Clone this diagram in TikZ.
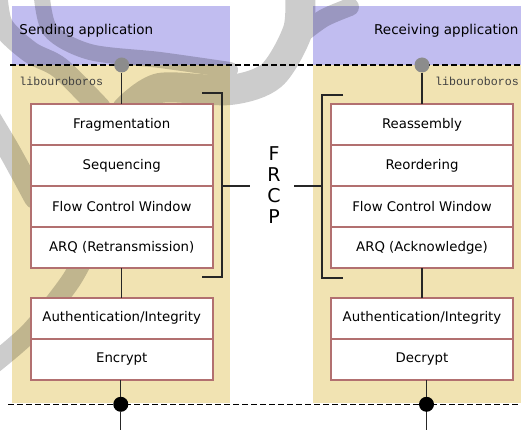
\documentclass[tikz,border=0pt]{standalone}
\usepackage{fontspec}
\setmainfont{DejaVu Sans}
\setmonofont{Liberation Mono}
\usetikzlibrary{positioning}

\definecolor{appblue}{RGB}{193,189,240}
\definecolor{libtan}{RGB}{241,227,178}
\definecolor{boxred}{RGB}{178,112,112}

\tikzset{
  layer/.style={draw=boxred,line width=1.6pt,fill=white,minimum width=182pt,
    minimum height=41pt,inner sep=0pt,outer sep=0pt,font=\fontsize{13.3}{15}\selectfont},
  wire/.style={line width=1.2pt,draw=black!85},
  tap/.style={circle,fill=black!45,minimum size=15pt,inner sep=0pt},
  pin/.style={circle,fill=black,minimum size=15pt,inner sep=0pt},
  cut/.style={dash pattern=on 6pt off 3pt,line width=1.1pt},
  ouro/.style={line width=24pt,line cap=round},
  apptext/.style={anchor=base west,inner sep=0pt,font=\fontsize{13.5}{15}\selectfont},
  libtext/.style={anchor=base west,inner sep=0pt,text=black!75,font=\ttfamily\fontsize{11.6}{13}\selectfont}
}

\begin{document}
\begin{tikzpicture}[x=1pt,y=-1pt]
\useasboundingbox (0,0) rectangle (521,430);

% application and library areas
\fill[appblue] (11.7,6) rectangle (230,65);
\fill[appblue] (313.3,6) rectangle (521,65);
\fill[libtan] (11.7,65) rectangle (230,403);
\fill[libtan] (313.3,65) rectangle (521,403);

% watermark
\begin{scope}[transparency group,opacity=.2]
\draw[ouro,line width=22pt] plot[smooth] coordinates {(-4,-12) (2,25) (30,52) (60,68) (100,108)};
\draw[ouro,line width=16pt] plot[smooth] coordinates {(41,-12) (50,30) (90,52) (160,60) (230,70)};
\draw[ouro,line width=30pt] plot[smooth] coordinates {(300,-12) (298,30) (272,75) (230,90) (160,88) (127,110)};
\draw[ouro,line width=18pt] plot[smooth] coordinates {(302,34) (324,18) (350,7)};
\draw[ouro,line width=22pt] plot[smooth] coordinates {(-12,115) (10,152) (35,198)};
\draw[ouro,line width=20pt] plot[smooth] coordinates {(90,245) (70,282) (30,332) (-12,368)};
\end{scope}

% interfaces
\draw[cut] (10,65) -- (521,65);
\draw[cut] (8,404.3) -- (521,404.3);

\node[apptext] (sendapp) at (19.3,34.5) {Sending application};
\node[apptext] (recvapp) at (374,34.5) {Receiving application};
\node[libtext] (sendlib) at (19.3,86) {libouroboros};
\node[libtext] (recvlib) at (435,86) {libouroboros};

% sending side
\node[layer] (frag) at (121.7,124.5) {Fragmentation};
\node[layer,below=0pt of frag] (sequ) {Sequencing};
\node[layer,below=0pt of sequ] (sfcw) {Flow Control Window};
\node[layer,below=0pt of sfcw] (sarq) {ARQ (Retransmission)};
\node[layer] (sauth) at (121.7,318.3) {Authentication/Integrity};
\node[layer,below=0pt of sauth] (encr) {Encrypt};

% receiving side
\node[layer] (reas) at (422,124.5) {Reassembly};
\node[layer,below=0pt of reas] (reord) {Reordering};
\node[layer,below=0pt of reord] (rfcw) {Flow Control Window};
\node[layer,below=0pt of rfcw] (rarq) {ARQ (Acknowledge)};
\node[layer] (rauth) at (422,318.3) {Authentication/Integrity};
\node[layer,below=0pt of rauth] (decr) {Decrypt};

\node[tap] (sendtop) at (121.7,65) {};
\node[tap] (recvtop) at (422,65) {};
\node[pin] (sendbot) at (120.8,404.3) {};
\node[pin] (recvbot) at (426.5,404.3) {};
\coordinate (sendout) at (120.8,430);
\coordinate (recvout) at (426.5,430);

\draw[wire] (sendtop) -- (frag);
\draw[wire] (sarq) -- (sauth);
\draw[wire] (encr.south -| sendbot) -- (sendbot) -- (sendout);
\draw[wire] (recvtop) -- (reas);
\draw[wire] (rarq) -- (rauth);
\draw[wire] (decr.south -| recvbot) -- (recvbot) -- (recvout);

% FRCP brackets
\node[font=\fontsize{19}{21}\selectfont,align=center,inner sep=0pt] (frcp) at (274,185.5) {F\\R\\C\\P};
\coordinate (frcpL) at (250,186);
\coordinate (frcpR) at (294,186);
\draw[wire] (202,93) -| (222,277) -- (202,277);
\draw[wire] (343,95) -| (322,278) -- (343,278);
\draw[wire] (222,186) -- (frcpL);
\draw[wire] (322,186) -- (frcpR);

\end{tikzpicture}
\end{document}
